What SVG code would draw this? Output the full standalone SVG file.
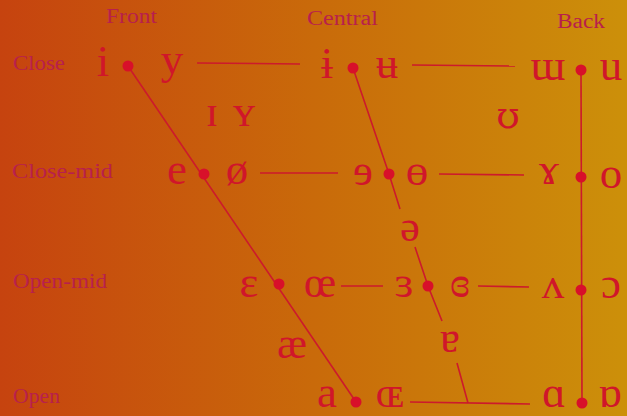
<svg xmlns="http://www.w3.org/2000/svg" width="627" height="416" viewBox="0 0 627 416">
<defs>
<linearGradient id="bg" x1="0" y1="0" x2="1" y2="0">
<stop offset="0" stop-color="#c6430f"/>
<stop offset="0.5" stop-color="#c96a0a"/>
<stop offset="1" stop-color="#cc900a"/>
</linearGradient>
</defs>
<style>
.lab{font-family:"Liberation Serif","DejaVu Serif",serif;font-size:20px;fill:#b8204c}
.v{font-family:"Liberation Serif","DejaVu Serif",serif;font-size:45px;fill:#d0162a;text-anchor:middle}
.dv{font-family:"DejaVu Serif",serif;font-size:38px}
.d{fill:#d8102a}
.ln{stroke:#cc1a2c;stroke-width:1.6;fill:none}
</style>
<rect width="627" height="416" fill="url(#bg)"/>
<g id="headers">
<text class="lab" x="106" y="23" textLength="51" lengthAdjust="spacingAndGlyphs">Front</text>
<text class="lab" x="307" y="25" textLength="71" lengthAdjust="spacingAndGlyphs">Central</text>
<text class="lab" x="557" y="28" textLength="48" lengthAdjust="spacingAndGlyphs">Back</text>
</g>
<g id="rows">
<text class="lab" x="13" y="70" textLength="52" lengthAdjust="spacingAndGlyphs">Close</text>
<text class="lab" x="12" y="178" textLength="101" lengthAdjust="spacingAndGlyphs">Close-mid</text>
<text class="lab" x="13" y="288" textLength="94" lengthAdjust="spacingAndGlyphs">Open-mid</text>
<text class="lab" x="13" y="403" textLength="47" lengthAdjust="spacingAndGlyphs">Open</text>
</g>
<g id="connectors">
<path class="ln" d="M128 66 L356 402"/>
<path class="ln" d="M353 68 L389 174 L400 209"/>
<path class="ln" d="M415 247 L428 286 L442 321"/>
<path class="ln" d="M457 363 L468 403"/>
<path class="ln" d="M581 70 L582 403"/>
<path class="ln" d="M197 63 L300 64"/>
<path class="ln" d="M412 65 L515 66"/>
<path class="ln" d="M260 173 L338 173"/>
<path class="ln" d="M439 174 L524 175"/>
<path class="ln" d="M341 286 L383 286"/>
<path class="ln" d="M478 286 L529 287"/>
<path class="ln" d="M410 402 L530 404"/>
</g>
<g id="close-front"><text class="v" x="103" y="76">i</text><circle class="d" cx="128" cy="66" r="5.5"/><text class="v" x="172" y="74">y</text></g>
<g id="close-central"><text class="v" x="327" y="78">ɨ</text><circle class="d" cx="353" cy="68" r="5.5"/><text class="v" x="387" y="78">ʉ</text></g>
<g id="close-back"><text class="v" x="548" y="80">ɯ</text><circle class="d" cx="581" cy="70" r="5.5"/><text class="v" x="611" y="80">u</text></g>
<g id="near-close"><text class="v" x="212" y="126">ɪ</text><text class="v" x="244" y="126">ʏ</text><text class="v dv" x="508" y="128">ʊ</text></g>
<g id="closemid-front"><text class="v" x="177" y="184">e</text><circle class="d" cx="204" cy="174" r="5.5"/><text class="v" x="237" y="184">ø</text></g>
<g id="closemid-central"><text class="v" x="363" y="185">ɘ</text><circle class="d" cx="389" cy="174" r="5.5"/><text class="v" x="417" y="185">ɵ</text></g>
<g id="closemid-back"><text class="v" x="549" y="184">ɤ</text><circle class="d" cx="581" cy="177" r="5.5"/><text class="v" x="611" y="188">o</text></g>
<g id="mid-central"><text class="v" x="410" y="241">ə</text></g>
<g id="openmid-front"><text class="v" x="249" y="297">ɛ</text><circle class="d" cx="279" cy="284" r="5.5"/><text class="v" x="320" y="297">œ</text></g>
<g id="openmid-central"><text class="v" x="404" y="297">ɜ</text><circle class="d" cx="428" cy="286" r="5.5"/><text class="v" x="460" y="297">ɞ</text></g>
<g id="openmid-back"><text class="v" x="553" y="298">ʌ</text><circle class="d" cx="581" cy="290" r="5.5"/><text class="v" x="611" y="298">ɔ</text></g>
<g id="near-open"><text class="v" x="292" y="358">æ</text><text class="v" x="450" y="352">ɐ</text></g>
<g id="open-front"><text class="v" x="327" y="407">a</text><circle class="d" cx="356" cy="402" r="5.5"/><text class="v" x="390" y="407">ɶ</text></g>
<g id="open-back"><text class="v" x="554" y="407">ɑ</text><circle class="d" cx="582" cy="403" r="5.5"/><text class="v" x="610" y="407">ɒ</text></g>
</svg>
